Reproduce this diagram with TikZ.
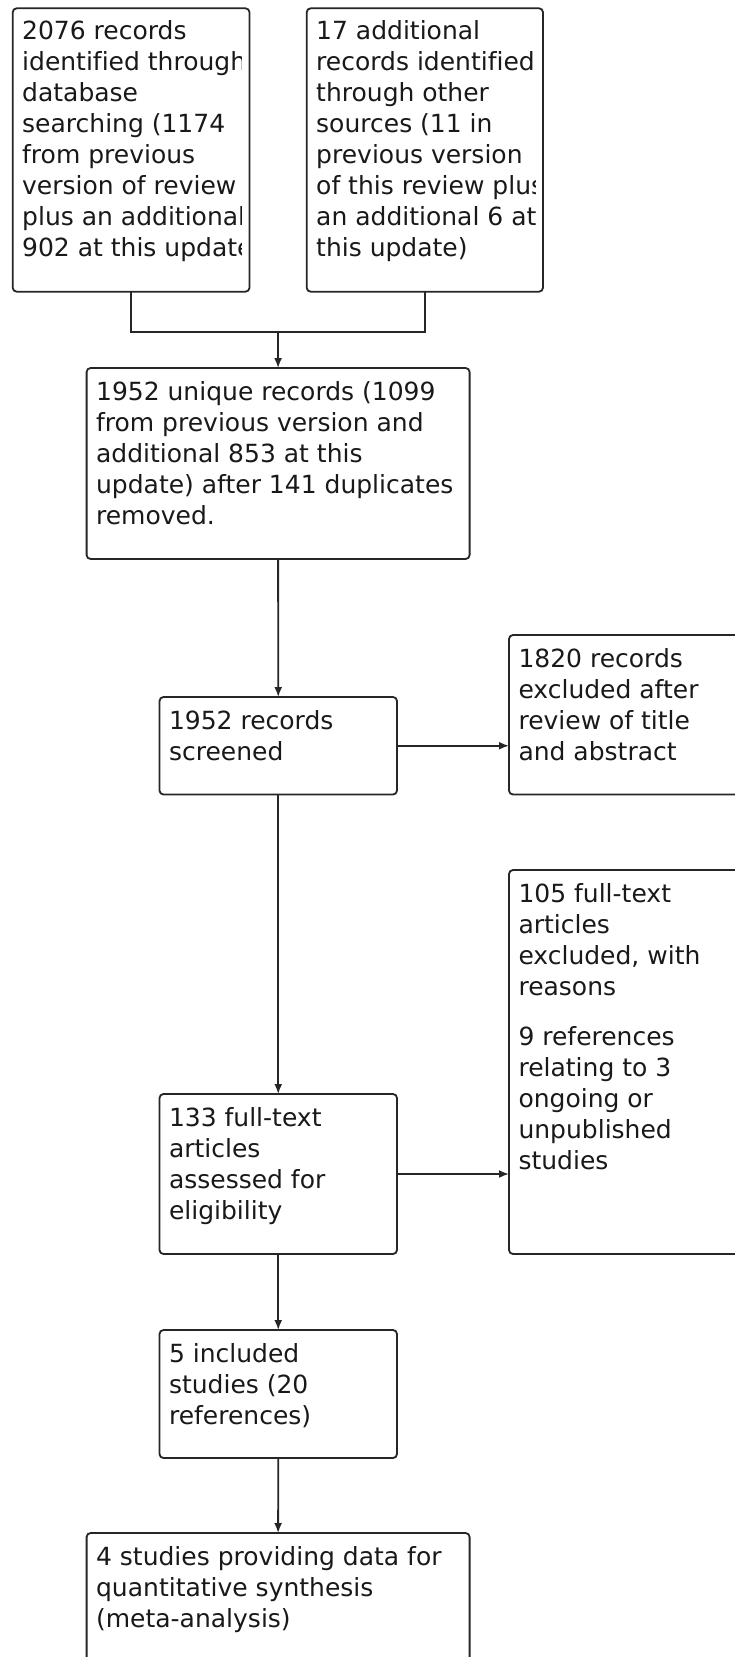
\documentclass[tikz,border=0pt]{standalone}
\usepackage{fontspec}
\setmainfont[Ligatures=NoCommon]{DejaVu Sans}
\usetikzlibrary{arrows.meta}
\newcommand{\boxtext}[1]{\vtop{\hsize=600pt\fontsize{25pt}{31pt}\selectfont\baselineskip=31pt\parindent=0pt\parskip=0pt\rightskip=0pt plus 1fil\leavevmode #1\par}}
\begin{document}
\begin{tikzpicture}[x=1pt,y=-1pt,
  flowbox/.style={draw=black!85, line width=1.8pt, rounded corners=4pt, rectangle, inner sep=0pt, outer sep=0pt, anchor=north west},
  boxtxt/.style={anchor=base west, inner sep=0pt, outer sep=0pt, text=black!90},
  link/.style={draw=black!85, line width=1.8pt},
  flowarrow/.style={link, -{Latex[length=10pt,width=8pt]}}]
\fill[white] (0,0) rectangle (734,1657);
\useasboundingbox (0,0) rectangle (734,1657);

% boxes
\node[flowbox, minimum width=236.8pt, minimum height=283.4pt] (A) at (12.7,8.3) {};
\node[flowbox, minimum width=236.3pt, minimum height=283.4pt] (B) at (306.7,8.3) {};
\node[flowbox, minimum width=383pt, minimum height=191pt] (C) at (86.6,368) {};
\node[flowbox, minimum width=237.5pt, minimum height=97.5pt] (D) at (159.5,697) {};
\node[flowbox, minimum width=260pt, minimum height=159.5pt] (E) at (509,635) {};
\node[flowbox, minimum width=237.5pt, minimum height=160pt] (F) at (159.5,1094) {};
\node[flowbox, minimum width=260pt, minimum height=384pt] (G) at (509,870) {};
\node[flowbox, minimum width=237.5pt, minimum height=128pt] (H) at (159.5,1330) {};
\node[flowbox, minimum width=383pt, minimum height=180pt] (I) at (86.6,1533) {};

% texts
\begin{scope}
\clip (A.north west) rectangle ([xshift=-8pt]A.south east);
\node[boxtxt] (At) at ([xshift=9.5pt,yshift=-31.5pt]A.north west) {\boxtext{2076 records\\identified through\\database\\searching (1174\\from previous\\version of review\\plus an additional\\902 at this update}};
\end{scope}
\begin{scope}
\clip (B.north west) rectangle ([xshift=-8pt]B.south east);
\node[boxtxt] (Bt) at ([xshift=9.5pt,yshift=-31.5pt]B.north west) {\boxtext{17 additional\\records identified\\through other\\sources (11 in\\previous version\\of this review plus\\an additional 6 at\\this update)}};
\end{scope}
\node[boxtxt] (Ct) at ([xshift=9.5pt,yshift=-32pt]C.north west) {\boxtext{1952 unique records (1099\\from previous version and\\additional 853 at this\\update) after 141 duplicates\\removed.}};
\node[boxtxt] (Dt) at ([xshift=9.5pt,yshift=-32pt]D.north west) {\boxtext{1952 records\\screened}};
\node[boxtxt] (Et) at ([xshift=9.5pt,yshift=-32pt]E.north west) {\boxtext{1820 records\\excluded after\\review of title\\and abstract}};
\node[boxtxt] (Ft) at ([xshift=9.5pt,yshift=-32pt]F.north west) {\boxtext{133 full-text\\articles\\assessed for\\eligibility}};
\node[boxtxt] (Gt) at ([xshift=9.5pt,yshift=-32pt]G.north west) {\boxtext{105 full-text\\articles\\excluded, with\\reasons\par\vskip 19pt\leavevmode 9 references\\relating to 3\\ongoing or\\unpublished\\studies}};
\node[boxtxt] (Ht) at ([xshift=9.5pt,yshift=-32pt]H.north west) {\boxtext{5 included\\studies (20\\references)}};
\node[boxtxt] (It) at ([xshift=9.5pt,yshift=-32pt]I.north west) {\boxtext{4 studies providing data for\\quantitative synthesis\\(meta-analysis)}};

% connectors
\coordinate (J) at (C.north |- 0,331.7);
\draw[link] (A.south) |- (J);
\draw[link] (B.south) |- (J);
\draw[flowarrow] (J) -- (C.north);
\draw[flowarrow] (C.south) -- (D.north);
\draw[flowarrow] (D.east) -- (E.west |- D.east);
\draw[flowarrow] (D.south) -- (F.north);
\draw[flowarrow] (F.east) -- (G.west |- F.east);
\draw[flowarrow] (F.south) -- (H.north);
\draw[flowarrow] (H.south) -- (I.north);
\end{tikzpicture}
\end{document}
